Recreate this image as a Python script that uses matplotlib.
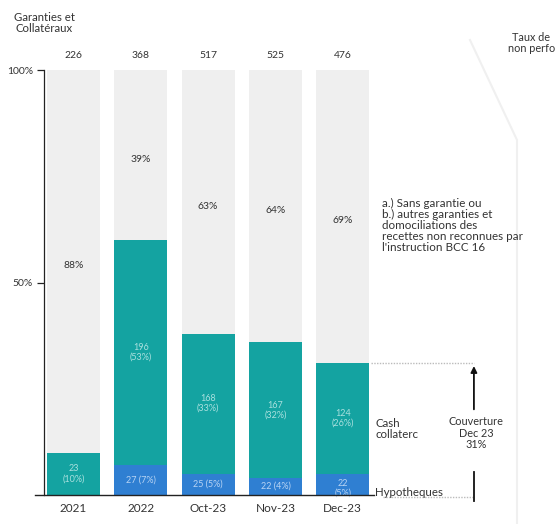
import matplotlib.pyplot as plt
from matplotlib.lines import Line2D

plt.rcParams['font.family'] = ['Lato', 'DejaVu Sans']

PERIODS = ['2021', '2022', 'Oct-23', 'Nov-23', 'Dec-23']
TOTALS = [226, 368, 517, 525, 476]
CASH_AMT = [23, 196, 168, 167, 124]
CASH_PCT = [10, 53, 33, 32, 26]
HYP_AMT = [0, 27, 25, 22, 22]
HYP_PCT = [0, 7, 5, 4, 5]
UNSECURED_PCT = [88, 39, 63, 64, 69]

GREY = '#efefef'
TEAL = '#14a3a1'
BLUE = '#2f7fd2'
TXT = '#333333'
INNER = '#a9e0de'

fig = plt.figure(figsize=(5.56, 5.24), dpi=100)
fig.patch.set_facecolor('white')
ax = fig.add_axes([44 / 556, 1 - 495 / 524, 512 / 556, 425 / 524])
ax.set_facecolor('none')

x = list(range(len(PERIODS)))
w = 0.79

ax.bar(x, [100] * len(x), w, color=GREY, zorder=1)
ax.bar(x, HYP_PCT, w, color=BLUE, zorder=2)
ax.bar(x, CASH_PCT, w, bottom=HYP_PCT, color=TEAL, zorder=2)

for i in x:
    # totals above each bar
    ax.text(i, 103.5, str(TOTALS[i]), ha='center', va='center', fontsize=7.5, color=TXT)
    # unsecured share in the grey part
    top = HYP_PCT[i] + CASH_PCT[i]
    ax.text(i, (top + 100) / 2 - 1, f'{UNSECURED_PCT[i]}%', ha='center', va='center',
            fontsize=7.5, color=TXT)
    # cash collateral
    ax.text(i, HYP_PCT[i] + CASH_PCT[i] / 2, f'{CASH_AMT[i]}\n({CASH_PCT[i]}%)',
            ha='center', va='center', fontsize=6.5, color=INNER, linespacing=1.1, zorder=3)
    # mortgages
    if HYP_AMT[i]:
        if i == len(x) - 1:
            ax.text(i, HYP_PCT[i] / 2 - 1, f'{HYP_AMT[i]}\n({HYP_PCT[i]}%)', ha='center',
                    va='center', fontsize=6.5, color='#b8d4f4', linespacing=1.1, zorder=3)
        else:
            ax.text(i, HYP_PCT[i] / 2, f'{HYP_AMT[i]} ({HYP_PCT[i]}%)', ha='center',
                    va='center', fontsize=6.5, color='#b8d4f4', zorder=3)

ax.set_xlim(-0.44, 7.17)
ax.set_ylim(0, 100)
ax.set_yticks([50, 100])
ax.set_yticklabels(['50%', '100%'], fontsize=7.5, color=TXT)
ax.set_xticks(x)
ax.set_xticklabels(PERIODS, fontsize=8.5, color=TXT)
ax.tick_params(axis='x', length=0, pad=6)
ax.tick_params(axis='y', length=5, width=0.9, color='#222222', pad=3)
for s in ['top', 'right', 'bottom']:
    ax.spines[s].set_visible(False)
ax.spines['left'].set_color('#222222')
ax.spines['left'].set_linewidth(0.9)

# baseline
ax.plot([-0.57, 4.4 + 0.07], [0, 0], color='#222222', lw=1.0, clip_on=False, zorder=4)

# coverage annotations
dec_top = HYP_PCT[-1] + CASH_PCT[-1]
ax.plot([4.42, 5.95], [dec_top, dec_top], color='#bbbbbb', lw=1, ls=(0, (1, 1)))
ax.plot([4.6, 5.95], [-0.5, -0.5], color='#bbbbbb', lw=1, ls=(0, (1, 1)), clip_on=False)
ax.annotate('', xy=(5.95, dec_top), xytext=(5.95, 19.5),
            arrowprops=dict(arrowstyle='-|>', color='#111111', lw=1.3, mutation_scale=9))
ax.plot([5.95, 5.95], [5.5, -1.5], color='#111111', lw=1.3, clip_on=False)
ax.text(5.98, 14.5, f'Couverture\nDec 23\n{dec_top}%', ha='center', va='center',
        fontsize=7.8, color=TXT, linespacing=1.05)
ax.text(4.48, 15.5, 'Cash\ncollaterc', ha='left', va='center', fontsize=8.3,
        color=TXT, linespacing=1.05)
ax.text(4.48, 0.5, 'Hypotheques', ha='left', va='center', fontsize=8.3, color=TXT)
ax.text(4.58, 63.5, "a.) Sans garantie ou\nb.) autres garanties et\ndomociliations des\n"
        "recettes non reconnues par\nl'instruction BCC 16", ha='left', va='center',
        fontsize=8.4, color=TXT, linespacing=1.0)

# header texts
fig.text(44 / 556, 1 - 23 / 524, 'Garanties et\nCollatéraux', ha='center', va='center',
         fontsize=8.2, color=TXT, linespacing=1.1)
fig.text(555 / 556, 1 - 43 / 524, 'Taux de\nnon perfo', ha='right', va='center',
         fontsize=7.8, color=TXT, linespacing=1.0, multialignment='center')

# faint scan frame line on the right, behind everything
fig.add_artist(Line2D([470 / 556, 517 / 556, 517 / 556], [1 - 40 / 524, 1 - 140 / 524, 0],
                      color='#f0f0f0', lw=1.5, zorder=-5))

fig.savefig('out.png', dpi=100, facecolor='white')
